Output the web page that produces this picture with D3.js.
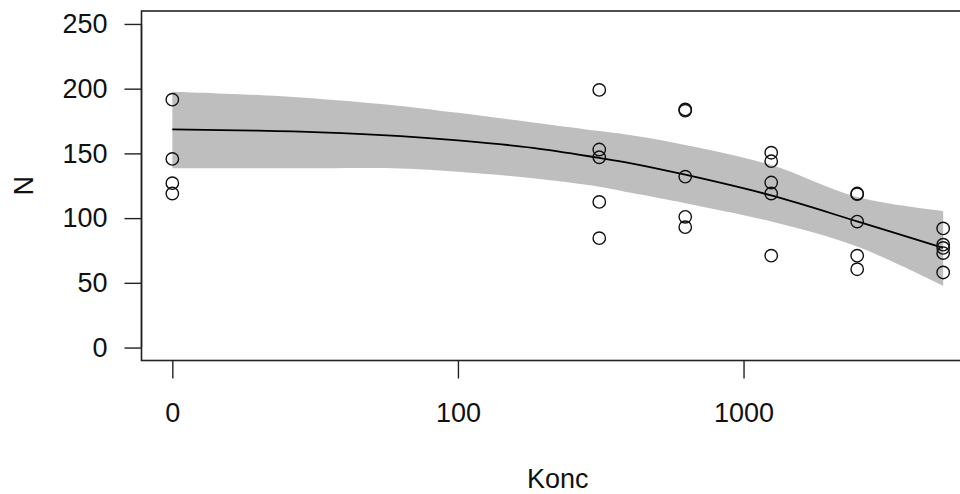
<!DOCTYPE html>
<html><head><meta charset="utf-8">
<script src="https://cdn.jsdelivr.net/npm/d3@7"></script>
<style>
body{margin:0;background:#fff}
svg{display:block}
text{font-family:"Liberation Sans",Arial,Helvetica,sans-serif;fill:#111}
</style>
</head><body>
<svg id="c" width="960" height="494"></svg>
<script>
// ---- data ----
const obsDose = [0,0,0,0,
  312.5,312.5,312.5,312.5,312.5,
  625,625,625,625,625,
  1250,1250,1250,1250,1250,
  2500,2500,2500,2500,2500,
  5000,5000,5000,5000,5000];
const obsN = [191.5,145.7,127,119,
  199,153,147,112.5,84.5,
  184,183,132,101,93,
  150.5,144,127.5,119,71,
  119,118.5,97.3,71,60.5,
  92,79.5,77,73,58];

const curveDose = [0,20,33,63,100,183,312.5,400,625,1250,2500,5000];
const curveN    = [168.5,167.6,166.3,163.3,160,154.3,146.5,142.5,133.5,117.5,97.5,77];
const bandUpper = [197.7,195.1,192.1,186.7,181.3,173.9,167.3,164.2,156.5,141,116.3,105.5];
const bandLower = [138.5,138.5,138.5,138.4,135.9,130.8,124.3,119.7,111.5,97.3,78,47.6];

const xTickValues = [0,100,1000];
const xTickLabels = ["0","100","1000"];
const yTickValues = [0,50,100,150,200,250];
const yTickLabels = ["0","50","100","150","200","250"];
const xLabel = "Konc", yLabel = "N";
const zeroDose = 10; // dose at which 0 is drawn on the log axis

// ---- scales ----
const svg = d3.select("#c");
const L = 141.5, R = 974, T = 11, B = 360.5;
const lo = Math.log10(zeroDose), hi = Math.log10(d3.max(obsDose));
const pad = 0.04*(hi-lo);
const x = d3.scaleLog().domain([Math.pow(10,lo-pad), Math.pow(10,hi+pad)]).range([L,R]);
const y = d3.scaleLinear().domain([-10,260]).range([B,T]);
const xp = d => x(d === 0 ? zeroDose : d);

const font = 27;

// band
const idx = d3.range(curveDose.length);
svg.append("path")
  .attr("d", d3.area().x(i=>xp(curveDose[i])).y0(i=>y(bandLower[i])).y1(i=>y(bandUpper[i])).curve(d3.curveCatmullRom)(idx))
  .attr("fill","#bebebe");

// fitted curve
svg.append("path")
  .attr("d", d3.line().x(i=>xp(curveDose[i])).y(i=>y(curveN[i])).curve(d3.curveCatmullRom)(idx))
  .attr("fill","none").attr("stroke","#000").attr("stroke-width",1.8);

// points
svg.append("g").selectAll("circle").data(d3.range(obsDose.length)).join("circle")
  .attr("cx", i=>xp(obsDose[i])).attr("cy", i=>y(obsN[i])).attr("r",6.2)
  .attr("fill","none").attr("stroke","#111").attr("stroke-width",1.4);

// box
svg.append("rect").attr("x",L).attr("y",T).attr("width",R-L).attr("height",B-T)
  .attr("fill","none").attr("stroke","#222").attr("stroke-width",1.6);

// y axis
const ya = d3.axisLeft(y).tickValues(yTickValues).tickFormat((d,i)=>yTickLabels[i]).tickSize(17).tickPadding(17).tickSizeOuter(0);
const gy = svg.append("g").attr("transform",`translate(${L},0)`).call(ya);
gy.select(".domain").attr("d",`M0,${y(0)}V${y(250)}`).attr("stroke","#222").attr("stroke-width",1.4);
gy.selectAll(".tick line").attr("stroke","#222").attr("stroke-width",1.4);
gy.selectAll(".tick text").attr("font-size",font).attr("font-family",null).attr("fill","#111");

// x axis
const xa = d3.axisBottom(x).tickValues(xTickValues.map(v=>v===0?zeroDose:v)).tickFormat((d,i)=>xTickLabels[i]).tickSize(18).tickPadding(24).tickSizeOuter(0);
const gx = svg.append("g").attr("transform",`translate(0,${B})`).call(xa);
gx.select(".domain").remove();
gx.selectAll(".tick line").attr("stroke","#222").attr("stroke-width",1.4);
gx.selectAll(".tick text").attr("font-size",font).attr("font-family",null).attr("fill","#111");

// axis titles
svg.append("text").attr("x",(L+R)/2).attr("y",488).attr("text-anchor","middle").attr("font-size",font).text(xLabel);
svg.append("text").attr("transform",`translate(33,${(T+B)/2}) rotate(-90)`).attr("text-anchor","middle").attr("font-size",font).text(yLabel);
</script>
</body></html>
